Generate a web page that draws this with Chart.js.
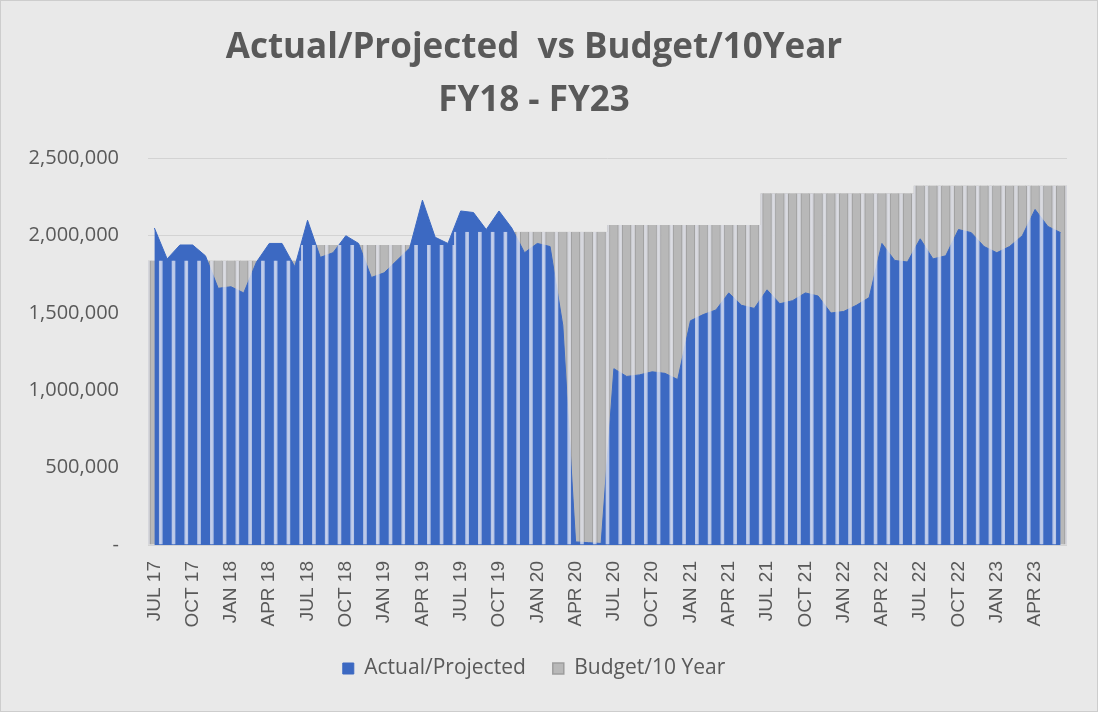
<!DOCTYPE html>
<html lang="en">
<head>
    <meta charset="UTF-8">
    <title>Actual/Projected vs Budget/10Year</title>
    <script src="https://cdn.jsdelivr.net/npm/chart.js"></script>
    <style>
        html, body { margin: 0; padding: 0; background: #e9e9e9; }
        #wrap { width: 1098px; height: 712px; box-sizing: border-box; border: 1px solid #cdcdcd; }
    </style>
</head>
<body>
<div id="wrap"><canvas id="statsChart"></canvas></div>

<script>
    // meses JUL 17 .. JUN 23
    const meses = [
        'JUL 17','AUG 17','SEP 17','OCT 17','NOV 17','DEC 17','JAN 18','FEB 18','MAR 18','APR 18','MAY 18','JUN 18',
        'JUL 18','AUG 18','SEP 18','OCT 18','NOV 18','DEC 18','JAN 19','FEB 19','MAR 19','APR 19','MAY 19','JUN 19',
        'JUL 19','AUG 19','SEP 19','OCT 19','NOV 19','DEC 19','JAN 20','FEB 20','MAR 20','APR 20','MAY 20','JUN 20',
        'JUL 20','AUG 20','SEP 20','OCT 20','NOV 20','DEC 20','JAN 21','FEB 21','MAR 21','APR 21','MAY 21','JUN 21',
        'JUL 21','AUG 21','SEP 21','OCT 21','NOV 21','DEC 21','JAN 22','FEB 22','MAR 22','APR 22','MAY 22','JUN 22',
        'JUL 22','AUG 22','SEP 22','OCT 22','NOV 22','DEC 22','JAN 23','FEB 23','MAR 23','APR 23','MAY 23','JUN 23'
    ];

    const actual = [
        2050000, 1850000, 1940000, 1940000, 1870000, 1660000, 1670000, 1630000, 1830000, 1950000, 1950000, 1800000,
        2100000, 1860000, 1890000, 2000000, 1950000, 1730000, 1760000, 1840000, 1920000, 2230000, 1990000, 1950000,
        2160000, 2150000, 2040000, 2160000, 2050000, 1890000, 1950000, 1930000, 1420000, 20000, 15000, 10000,
        1140000, 1090000, 1100000, 1120000, 1110000, 1070000, 1450000, 1490000, 1520000, 1630000, 1550000, 1530000,
        1650000, 1560000, 1580000, 1630000, 1610000, 1500000, 1510000, 1550000, 1600000, 1950000, 1840000, 1830000,
        1980000, 1850000, 1870000, 2040000, 2020000, 1930000, 1890000, 1930000, 2000000, 2170000, 2060000, 2020000
    ];

    const budget = [
        1840000, 1840000, 1840000, 1840000, 1840000, 1840000, 1840000, 1840000, 1840000, 1840000, 1840000, 1840000,
        1940000, 1940000, 1940000, 1940000, 1940000, 1940000, 1940000, 1940000, 1940000, 1940000, 1940000, 1940000,
        2025000, 2025000, 2025000, 2025000, 2025000, 2025000, 2025000, 2025000, 2025000, 2025000, 2025000, 2025000,
        2070000, 2070000, 2070000, 2070000, 2070000, 2070000, 2070000, 2070000, 2070000, 2070000, 2070000, 2070000,
        2275000, 2275000, 2275000, 2275000, 2275000, 2275000, 2275000, 2275000, 2275000, 2275000, 2275000, 2275000,
        2325000, 2325000, 2325000, 2325000, 2325000, 2325000, 2325000, 2325000, 2325000, 2325000, 2325000, 2325000
    ];

    const titulo = ['Actual/Projected  vs Budget/10Year', 'FY18 - FY23'];
    const gris = '#595959';

    const ctx = document.getElementById('statsChart').getContext('2d');
    window.chart = new Chart(ctx, {
        type: 'bar',
        data: {
            labels: meses,
            datasets: [{
                type: 'line',
                label: 'Actual/Projected',
                data: actual,
                backgroundColor: '#3c69c2',
                borderColor: '#3c69c2',
                borderWidth: 1,
                fill: 'origin',
                pointRadius: 0,
                tension: 0,
                order: 2
            }, {
                label: 'Budget/10 Year',
                data: budget,
                backgroundColor: '#b8b8b8',
                borderColor: '#9d9d9d',
                borderWidth: { left: 3, right: 3, top: 0, bottom: 0 },
                borderSkipped: false,
                barPercentage: 1,
                categoryPercentage: 1,
                grouped: false,
                order: 3
            }, {
                // rayas claras entre columnas, encima del area
                label: 'rayas',
                data: budget,
                backgroundColor: 'rgba(0,0,0,0)',
                borderColor: 'rgba(236,238,246,0.7)',
                borderWidth: { left: 1.5, right: 1.5, top: 0, bottom: 0 },
                borderSkipped: false,
                barPercentage: 1,
                categoryPercentage: 1,
                grouped: false,
                order: 1
            }]
        },
        options: {
            responsive: true,
            maintainAspectRatio: false,
            animation: false,
            layout: { padding: { left: 0, right: 30, top: 0, bottom: 22 } },
            plugins: {
                title: {
                    display: true,
                    text: titulo,
                    color: gris,
                    font: { family: 'Open Sans', size: 35, weight: 'bold', lineHeight: 1.52 },
                    padding: { top: 20, bottom: 31 }
                },
                legend: {
                    position: 'bottom',
                    labels: {
                        color: gris,
                        font: { family: 'Open Sans', size: 21 },
                        boxWidth: 11,
                        boxHeight: 11,
                        padding: 27,
                        filter: item => item.text !== 'rayas'
                    }
                },
                tooltip: { enabled: false }
            },
            scales: {
                x: {
                    offset: true,
                    grid: { display: false },
                    border: { display: false },
                    ticks: {
                        autoSkip: false,
                        minRotation: 90,
                        maxRotation: 90,
                        padding: 8,
                        color: gris,
                        font: { family: 'Liberation Sans', size: 19 },
                        callback: (v, i) => i % 3 === 0 ? meses[i] : ''
                    },
                    afterFit: s => { s.height = 86; }
                },
                y: {
                    min: 0,
                    max: 2500000,
                    border: { display: false },
                    grid: { color: '#d3d3d3', drawTicks: false },
                    ticks: {
                        stepSize: 500000,
                        padding: 29,
                        color: gris,
                        font: { family: 'Open Sans', size: 20 },
                        callback: v => v === 0 ? '-' : v.toLocaleString('en-US')
                    },
                    afterFit: s => { s.width = 147; }
                }
            }
        }
    });
</script>
</body>
</html>
